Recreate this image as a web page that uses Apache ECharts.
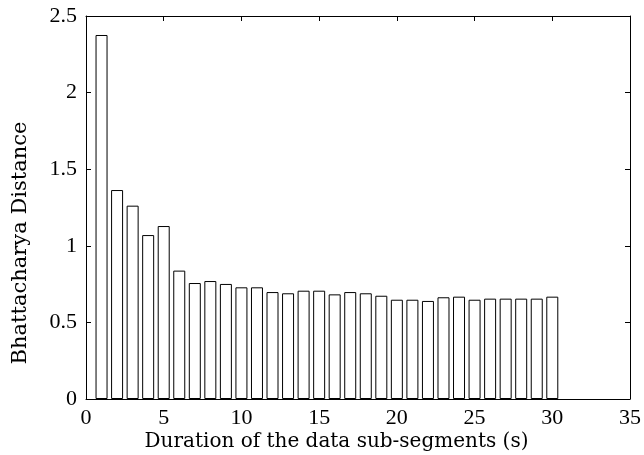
<!DOCTYPE html>
<html>
<head>
<meta charset="utf-8">
<script src="https://cdn.jsdelivr.net/npm/echarts@6/dist/echarts.min.js"></script>
<style>html,body{margin:0;padding:0;background:#fff;}#c{width:644px;height:455px;}</style>
</head>
<body>
<div id="c"></div>
<script>
var durations = [1,2,3,4,5,6,7,8,9,10,11,12,13,14,15,16,17,18,19,20,21,22,23,24,25,26,27,28,29,30];
var distances = [2.376,1.364,1.262,1.070,1.129,0.838,0.757,0.770,0.751,0.729,0.729,0.698,0.690,0.707,0.707,0.683,0.698,0.690,0.674,0.648,0.648,0.640,0.664,0.668,0.648,0.655,0.655,0.655,0.655,0.668];
var xTitle = 'Duration of the data sub-segments (s)';
var yTitle = 'Bhattacharya Distance';

var chart = echarts.init(document.getElementById('c'), null, {renderer: 'canvas'});
var tickFont = {fontFamily: 'Liberation Serif', fontSize: 22, color: '#000'};
var axisLine = {show: true, onZero: false, lineStyle: {color: '#000', width: 1}};
var axisTick = {show: true, inside: true, length: 5, lineStyle: {color: '#000', width: 1}};
var data = durations.map(function (d, i) { return [d, distances[i]]; });

chart.setOption({
  animation: false,
  backgroundColor: '#fff',
  grid: {left: 86, right: 13, top: 16, bottom: 56, containLabel: false},
  xAxis: [{
    type: 'value', min: 0, max: 35, interval: 5, position: 'bottom',
    axisLine: axisLine, axisTick: axisTick, splitLine: {show: false},
    axisLabel: Object.assign({margin: 8}, tickFont)
  }, {
    type: 'value', min: 0, max: 35, interval: 5, position: 'top',
    axisLine: axisLine, axisTick: axisTick, splitLine: {show: false},
    axisLabel: {show: false}
  }],
  yAxis: [{
    type: 'value', min: 0, max: 2.5, interval: 0.5, position: 'left',
    axisLine: axisLine, axisTick: axisTick, splitLine: {show: false},
    axisLabel: Object.assign({margin: 9}, tickFont)
  }, {
    type: 'value', min: 0, max: 2.5, interval: 0.5, position: 'right',
    axisLine: axisLine, axisTick: axisTick, splitLine: {show: false},
    axisLabel: {show: false}
  }],
  graphic: [{
    type: 'text', x: 336.5, y: 442,
    style: {text: xTitle, fontFamily: 'DejaVu Serif', fontSize: 20, fill: '#000', align: 'center', verticalAlign: 'middle'}
  }, {
    type: 'text', x: 21, y: 243, rotation: Math.PI / 2,
    style: {text: yTitle, fontFamily: 'DejaVu Serif', fontSize: 21, fill: '#000', align: 'center', verticalAlign: 'middle'}
  }],
  series: [{
    type: 'bar', xAxisIndex: 0, yAxisIndex: 0,
    data: data, barWidth: 12,
    itemStyle: {color: '#fff', borderColor: '#000', borderWidth: 1}
  }]
});
</script>
</body>
</html>
